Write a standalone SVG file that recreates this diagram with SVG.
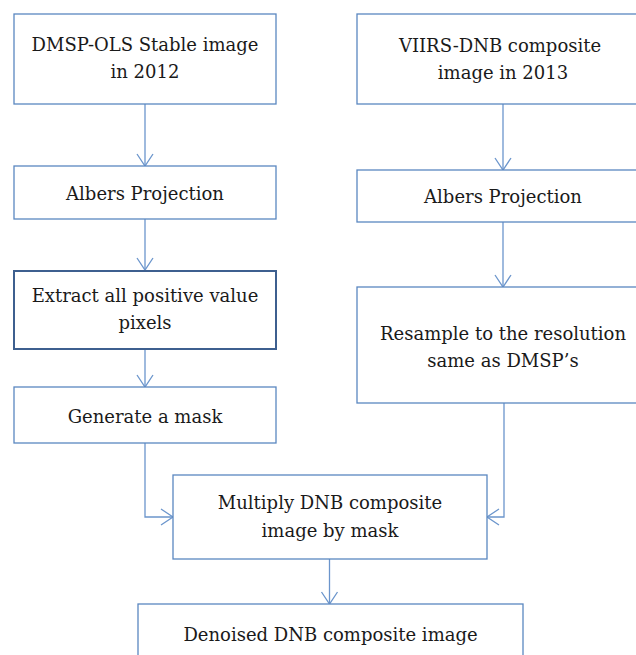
<svg xmlns="http://www.w3.org/2000/svg" width="636" height="655" viewBox="0 0 636 655">
<style>
.box{fill:#ffffff;stroke:#5a87c0;stroke-width:1.3}
.dark{fill:#ffffff;stroke:#3d5f8f;stroke-width:2}
.t{font-family:'DejaVu Serif','Liberation Serif',serif;font-size:18px;fill:#1a1a1a;text-anchor:middle}
.c{fill:none;stroke:#6b95cc;stroke-width:1.3}
</style>
<defs>
<marker id="ah" markerUnits="userSpaceOnUse" markerWidth="20" markerHeight="20" viewBox="-14 -10 16 20" refX="0" refY="0" orient="auto">
<path d="M-12,-8 L0,0 L-12,8" fill="none" stroke="#6b95cc" stroke-width="1.3"/>
</marker>
</defs>
<rect width="636" height="655" fill="#ffffff"/>
<g id="connectors">
<path class="c" d="M145,104 V166" marker-end="url(#ah)"/>
<path class="c" d="M145,219 V270" marker-end="url(#ah)"/>
<path class="c" d="M145,349 V387" marker-end="url(#ah)"/>
<path class="c" d="M145,443 V517 H173" marker-end="url(#ah)"/>
<path class="c" d="M503,104 V170" marker-end="url(#ah)"/>
<path class="c" d="M503,222 V287" marker-end="url(#ah)"/>
<path class="c" d="M504,403 V517 H487" marker-end="url(#ah)"/>
<path class="c" d="M329.5,559 V604" marker-end="url(#ah)"/>
</g>
<g id="dmsp">
<rect class="box" x="14" y="14" width="262" height="90"/>
<text class="t" x="145" y="51">DMSP-OLS Stable image</text>
<text class="t" x="145" y="78">in 2012</text>
</g>
<g id="albers-left">
<rect class="box" x="14" y="166" width="262" height="53"/>
<text class="t" x="145" y="200">Albers Projection</text>
</g>
<g id="extract">
<rect class="dark" x="14" y="271" width="262" height="78"/>
<text class="t" x="145" y="302">Extract all positive value</text>
<text class="t" x="145" y="329">pixels</text>
</g>
<g id="mask">
<rect class="box" x="14" y="387" width="262" height="56"/>
<text class="t" x="145" y="423">Generate a mask</text>
</g>
<g id="viirs">
<rect class="box" x="357" y="14" width="293" height="90"/>
<text class="t" x="500" y="52">VIIRS-DNB composite</text>
<text class="t" x="503" y="79">image in 2013</text>
</g>
<g id="albers-right">
<rect class="box" x="357" y="170" width="293" height="52"/>
<text class="t" x="503" y="203">Albers Projection</text>
</g>
<g id="resample">
<rect class="box" x="357" y="287" width="293" height="116"/>
<text class="t" x="503" y="340">Resample to the resolution</text>
<text class="t" x="503" y="367">same as DMSP’s</text>
</g>
<g id="multiply">
<rect class="box" x="173" y="475" width="314" height="84"/>
<text class="t" x="330" y="509">Multiply DNB composite</text>
<text class="t" x="330" y="537">image by mask</text>
</g>
<g id="denoised">
<rect class="box" x="138" y="604" width="385" height="80"/>
<text class="t" x="330.5" y="641">Denoised DNB composite image</text>
</g>
</svg>
